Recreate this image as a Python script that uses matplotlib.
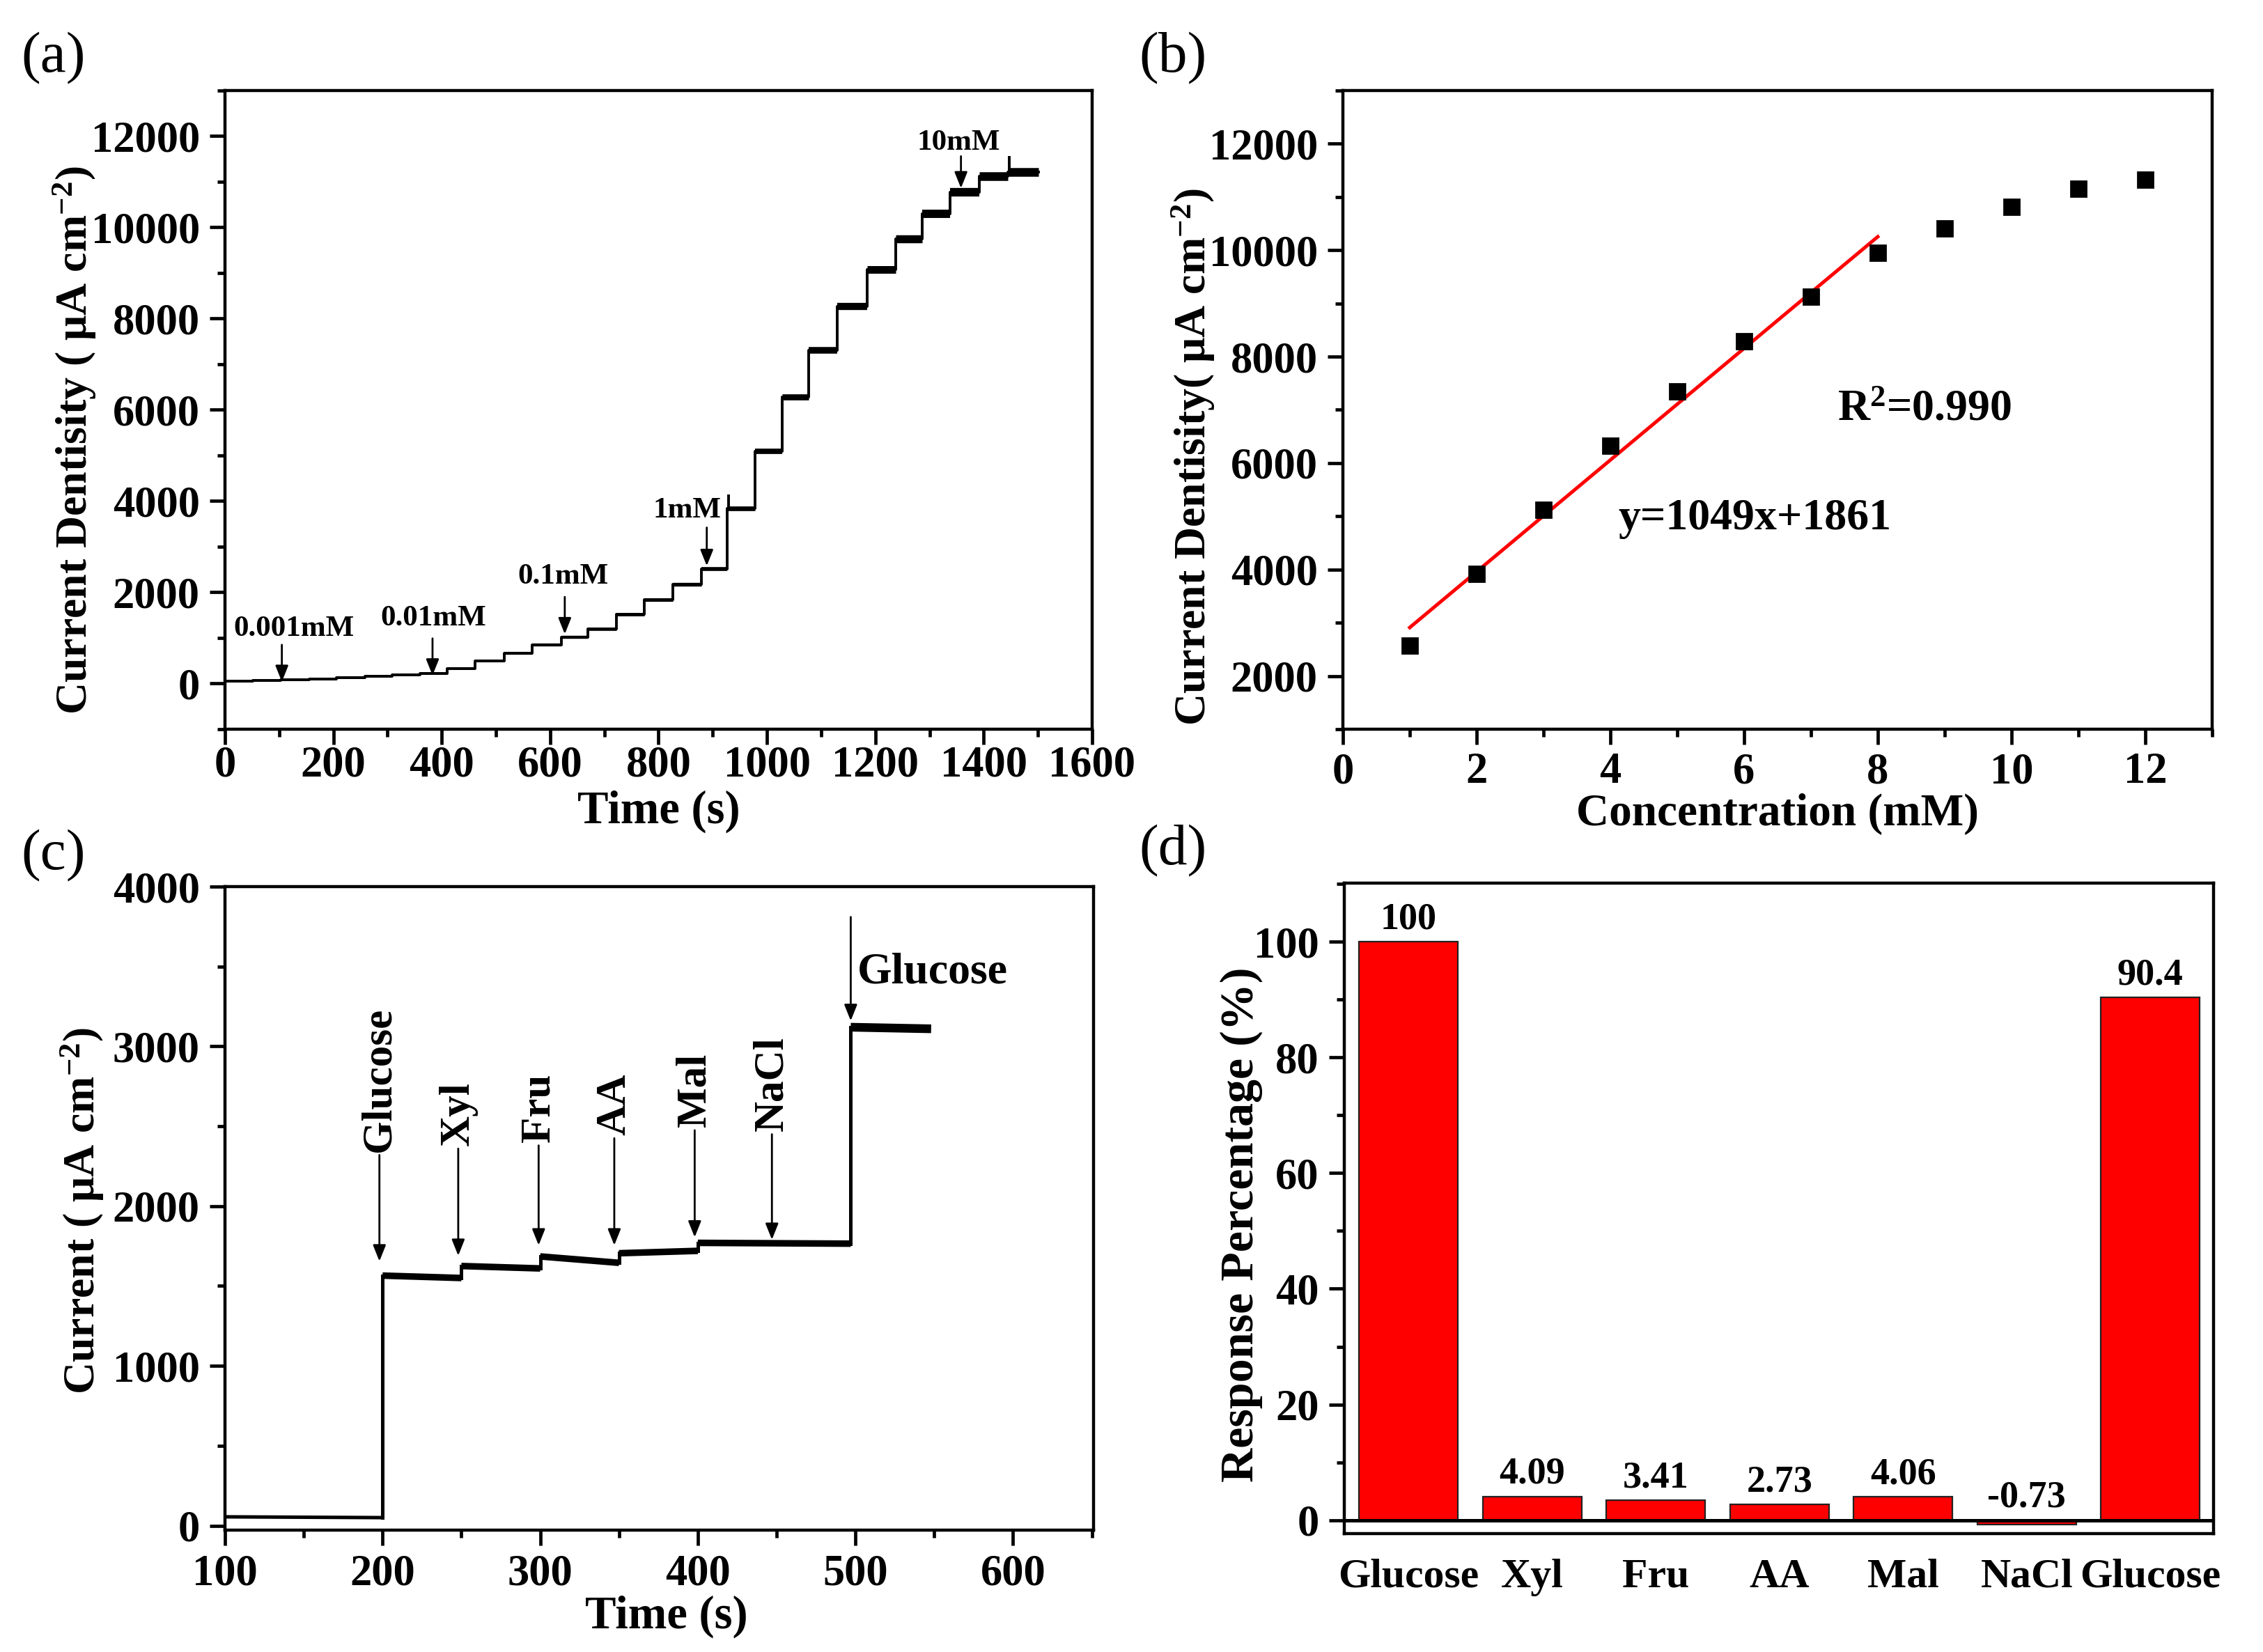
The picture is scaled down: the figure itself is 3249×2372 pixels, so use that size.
import matplotlib
matplotlib.use('Agg')
import matplotlib.pyplot as plt
import numpy as np
from matplotlib.ticker import MultipleLocator

plt.rcParams['font.family'] = ['Liberation Serif', 'DejaVu Serif']
plt.rcParams['font.weight'] = 'bold'
plt.rcParams['axes.labelweight'] = 'bold'
plt.rcParams['mathtext.fontset'] = 'custom'
plt.rcParams['mathtext.rm'] = 'Liberation Serif:bold'
plt.rcParams['mathtext.it'] = 'Liberation Serif:italic:bold'
plt.rcParams['mathtext.bf'] = 'Liberation Serif:bold'
plt.rcParams['mathtext.default'] = 'rm'

# ---------------- data ----------------
# (a) amperometric staircase: step times (s) and plateau current densities
a_step_t = [0, 52, 103, 155, 206, 258, 309, 360, 410, 462, 516, 567, 621, 669, 722,
            774, 826, 879, 927, 978, 1028, 1077, 1130, 1185, 1237, 1287, 1338, 1392,
            1445, 1501]
a_level = [60, 70, 78, 100, 130, 160, 185, 228, 330, 497, 665, 843, 1015, 1205, 1520,
           1843, 2173, 2505, 3840, 5090, 6285, 7305, 8260, 9075, 9755, 10300, 10775,
           11115, 11220]
a_spike_t = [927, 1445]
a_spike_v = [4140, 11560]
a_ann_text = ['0.001mM', '0.01mM', '0.1mM', '1mM', '10mM']
a_ann_t = [105, 383, 627, 889, 1358]
a_ann_top = [850, 990, 1900, 3420, 11560]
a_ann_tip = [40, 180, 1085, 2580, 10860]
a_ann_text_x = [127, 385, 624, 853, 1353]
a_ann_text_y = [1200, 1435, 2345, 3800, 11860]

# (b) calibration
b_conc = [1, 2, 3, 4, 5, 6, 7, 8, 9, 10, 11, 12]
b_current = [2570, 3920, 5120, 6330, 7350, 8290, 9130, 9950, 10410, 10810, 11150, 11320]
b_slope = 1049
b_intercept = 1861
b_fit_range = [1, 8]

# (c) interference test
c_seg_t = [100, 200, 250, 300, 350, 400, 497, 548]
c_seg_start = [55, 1565, 1625, 1685, 1705, 1770, 3120]
c_seg_end = [50, 1550, 1610, 1645, 1720, 1765, 3110]
c_labels = ['Glucose', 'Xyl', 'Fru', 'AA', 'Mal', 'NaCl', 'Glucose']
c_arrow_t = [198, 248, 299, 347, 398, 447, 497]
c_arrow_top = [2320, 2360, 2380, 2425, 2475, 2450, 3810]
c_arrow_tip = [1655, 1690, 1755, 1755, 1805, 1790, 3160]

# (d) response percentage
d_cats = ['Glucose', 'Xyl', 'Fru', 'AA', 'Mal', 'NaCl', 'Glucose']
d_vals = [100, 4.09, 3.41, 2.73, 4.06, -0.73, 90.4]
d_texts = ['100', '4.09', '3.41', '2.73', '4.06', '-0.73', '90.4']

# ---------------- figure ----------------
fig = plt.figure(figsize=(16.245, 11.86), dpi=200)
axA = fig.add_axes([0.0994, 0.5586, 0.3832, 0.3866])
axB = fig.add_axes([0.5934, 0.5586, 0.3841, 0.3866])
axC = fig.add_axes([0.0994, 0.0738, 0.3838, 0.3895])
axD = fig.add_axes([0.5940, 0.0718, 0.3841, 0.3938])

TICK = 22.5
LAB = 23


def style(ax, xpad=5):
    for s in ax.spines.values():
        s.set_linewidth(1.6)
    ax.tick_params(which='major', direction='out', length=8, width=1.7,
                   labelsize=TICK, top=False, right=False, pad=5)
    ax.tick_params(which='minor', direction='out', length=4, width=1.7,
                   top=False, right=False)
    ax.tick_params(axis='x', which='major', pad=xpad)


arrow_kw = dict(arrowstyle='-|>,head_length=0.7,head_width=0.28', lw=1.0,
                color='black', shrinkA=0, shrinkB=0, mutation_scale=10)

# ---- (a)
axA.step(a_step_t, a_level + [a_level[-1]], where='post', color='black', lw=1.4)
lws = [1.3 + 3.2 * min(v, 11000) / 11000 for v in a_level]
axA.hlines(a_level, a_step_t[:-1], a_step_t[1:], colors='black', linewidths=lws)
for t, v in zip(a_spike_t, a_spike_v):
    base = a_level[a_step_t.index(t)]
    axA.vlines(t + 2, base, v, colors='black', lw=1.4)
for txt, t, top, tip, tx, ty in zip(a_ann_text, a_ann_t, a_ann_top, a_ann_tip,
                                    a_ann_text_x, a_ann_text_y):
    axA.annotate('', xy=(t, tip), xytext=(t, top), arrowprops=arrow_kw)
    axA.text(tx, ty, txt, ha='center', va='center', fontsize=15.5)
axA.set_xlim(0, 1600)
axA.set_ylim(-1000, 13000)
axA.xaxis.set_major_locator(MultipleLocator(200))
axA.xaxis.set_minor_locator(MultipleLocator(100))
axA.yaxis.set_major_locator(MultipleLocator(2000))
axA.yaxis.set_minor_locator(MultipleLocator(1000))
style(axA, xpad=0.5)
axA.set_xlabel('Time (s)', fontsize=24, va='center')
axA.set_ylabel('Current Dentisity ( μA cm$^{-2}$)', fontsize=LAB, va='center')
axA.xaxis.set_label_coords(0.5, -0.129)
axA.yaxis.set_label_coords(-0.173, 0.452)

# ---- (b)
axB.plot(b_conc, b_current, 's', color='black', markersize=8, zorder=3)
fx = np.array(b_fit_range, dtype=float)
axB.plot(fx, b_slope * fx + b_intercept, color='#ff0000', lw=1.8, zorder=2)
axB.text(7.4, 7000, 'R$^2$=0.990', fontsize=23, ha='left', va='center')
axB.text(4.12, 4950, 'y=1049x+1861', fontsize=23, ha='left', va='center')
axB.set_xlim(0, 13)
axB.set_ylim(1000, 13000)
axB.xaxis.set_major_locator(MultipleLocator(2))
axB.xaxis.set_minor_locator(MultipleLocator(1))
axB.yaxis.set_major_locator(MultipleLocator(2000))
axB.yaxis.set_minor_locator(MultipleLocator(1000))
style(axB, xpad=4)
axB.set_xlabel('Concentration (mM)', fontsize=23.5, va='center')
axB.set_ylabel('Current Dentisity( μA cm$^{-2}$)', fontsize=LAB, va='center')
axB.xaxis.set_label_coords(0.5, -0.133)
axB.yaxis.set_label_coords(-0.172, 0.426)

# ---- (c)
for i in range(len(c_seg_start)):
    t0, t1 = c_seg_t[i], c_seg_t[i + 1]
    w = 1.8 if i == 0 else (4.5 if i == len(c_seg_start) - 1 else 3.4)
    axC.plot([t0, t1], [c_seg_start[i], c_seg_end[i]], color='black', lw=w,
             solid_capstyle='butt')
    if i > 0:
        axC.plot([t0, t0], [c_seg_end[i - 1], c_seg_start[i]], color='black', lw=1.8)
for k, (lab, t, top, tip) in enumerate(zip(c_labels, c_arrow_t, c_arrow_top, c_arrow_tip)):
    axC.annotate('', xy=(t, tip), xytext=(t, top), arrowprops=arrow_kw)
    if k < len(c_labels) - 1:
        axC.text(t, top + 20, lab, rotation=90, ha='center', va='bottom', fontsize=22)
    else:
        axC.text(t + 4, 3460, lab, ha='left', va='center', fontsize=23)
axC.set_xlim(100, 651)
axC.set_ylim(-28, 4000)
axC.xaxis.set_major_locator(MultipleLocator(100))
axC.xaxis.set_minor_locator(MultipleLocator(50))
axC.yaxis.set_major_locator(MultipleLocator(1000))
axC.yaxis.set_minor_locator(MultipleLocator(500))
style(axC, xpad=4.5)
axC.set_xlabel('Time (s)', fontsize=24, va='center')
axC.set_ylabel('Current ( μA cm$^{-2}$)', fontsize=LAB, va='center')
axC.xaxis.set_label_coords(0.508, -0.135)
axC.yaxis.set_label_coords(-0.164, 0.496)

# ---- (d)
xpos = np.arange(len(d_cats))
axD.bar(xpos, d_vals, width=0.8, color='#ff0000', edgecolor='#222222', linewidth=0.8)
axD.axhline(0, color='black', lw=1.8)
for x, v, t in zip(xpos, d_vals, d_texts):
    axD.text(x, max(v, 0) + 0.8, t, ha='center', va='bottom', fontsize=19.5)
axD.set_xlim(-0.52, 6.51)
axD.set_ylim(-2.3, 110.2)
axD.set_xticks(xpos)
axD.set_xticklabels(d_cats)
axD.yaxis.set_major_locator(MultipleLocator(20))
axD.yaxis.set_minor_locator(MultipleLocator(10))
style(axD)
axD.tick_params(axis='x', length=0, labelsize=21.5, pad=13)
axD.set_ylabel('Response Percentage (%)', fontsize=24.5, va='center')
axD.yaxis.set_label_coords(-0.118, 0.475)

# panel letters
for lbl, x, y in [('(a)', 0.0095, 0.9646), ('(b)', 0.5035, 0.9646),
                  ('(c)', 0.0095, 0.4819), ('(d)', 0.5035, 0.4848)]:
    fig.text(x, y, lbl, fontsize=30, fontweight='normal', ha='left', va='center')

fig.savefig('out.png', dpi=200)
